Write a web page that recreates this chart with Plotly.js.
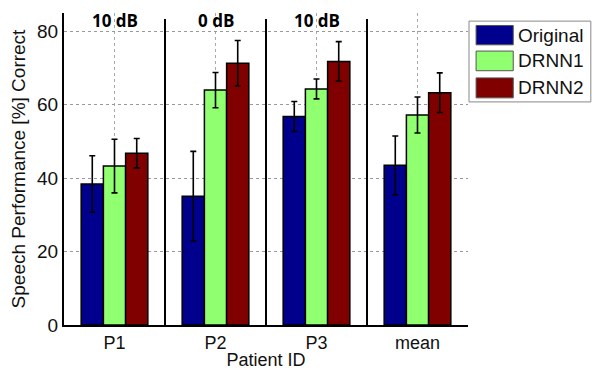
<!DOCTYPE html>
<html><head><meta charset="utf-8">
<script src="https://cdn.plot.ly/plotly-3.0.1.min.js"></script>
<style>body{margin:0;padding:0;background:#fff}#chart{width:592px;height:370px}</style>
</head><body><div id="chart"></div>
<script>
const categories = ['P1', 'P2', 'P3', 'mean'];
const snrLabels = ['10 dB', '0 dB', '10 dB'];
const seriesNames = ['Original', 'DRNN1', 'DRNN2'];
const original = [38.4, 35.1, 56.8, 43.5];
const originalErr = [7.7, 12.2, 4.1, 8.0];
const drnn1 = [43.3, 64.0, 64.3, 57.2];
const drnn1Err = [7.3, 4.8, 2.7, 4.9];
const drnn2 = [46.8, 71.3, 71.8, 63.3];
const drnn2Err = [4.0, 6.2, 5.4, 5.4];
const colors = ['rgb(0,0,140)', 'rgb(144,255,112)', 'rgb(128,0,0)'];

const vals = [original, drnn1, drnn2];
const errs = [originalErr, drnn1Err, drnn2Err];
const font = 'Liberation Sans, Arial, sans-serif';

const traces = vals.map((v, i) => ({
  type: 'bar', x: categories, y: v, name: seriesNames[i],
  marker: {color: colors[i], line: {color: '#000', width: 1.5}},
  error_y: {type: 'data', array: errs[i], visible: true, color: '#000', thickness: 1.6, width: 3},
  showlegend: false
}));

const shapes = [];
for (let k = 0; k < categories.length - 1; k++) {
  shapes.push({type: 'line', xref: 'x', yref: 'paper', x0: k + 0.5, x1: k + 0.5, y0: -0.005, y1: 0.981,
    line: {color: '#000', width: 2}});
}
const annotations = snrLabels.map((t, k) => ({
  text: '<b>' + t + '</b>', x: categories[k], xref: 'x', yref: 'paper', y: 0.976,
  showarrow: false, font: {family: 'Open Sans, sans-serif', size: 17, color: '#000'},
  yanchor: 'middle', bgcolor: 'rgba(255,255,255,0)'
}));
// custom legend
const lx0 = 1.0025, lx1 = 1.304, ly0 = 0.715, ly1 = 0.974;
shapes.push({type: 'rect', xref: 'paper', yref: 'paper', x0: lx0, x1: lx1, y0: ly0, y1: ly1,
  line: {color: '#888', width: 1}, fillcolor: '#fff'});
const rowY = [[0.898, 0.960], [0.815, 0.878], [0.728, 0.792]];
seriesNames.forEach((n, i) => {
  shapes.push({type: 'rect', xref: 'paper', yref: 'paper', x0: 1.020, x1: 1.112,
    y0: rowY[i][0], y1: rowY[i][1], line: {color: '#555', width: 1}, fillcolor: colors[i]});
  annotations.push({text: n, xref: 'paper', yref: 'paper', x: 1.118, y: (rowY[i][0] + rowY[i][1]) / 2,
    xanchor: 'left', yanchor: 'middle', showarrow: false, font: {family: font, size: 19, color: '#111'}});
});

const layout = {
  width: 592, height: 370,
  margin: {l: 64, r: 124, t: 13, b: 45},
  paper_bgcolor: '#fff', plot_bgcolor: '#fff',
  barmode: 'group', bargap: 0.34, bargroupgap: 0,
  font: {family: font, size: 19, color: '#111'},
  xaxis: {
    showline: true, linecolor: '#000', linewidth: 2, mirror: false,
    showgrid: true, gridcolor: '#aaa', griddash: 'dot', gridwidth: 1,
    ticks: '', tickfont: {size: 18},
    title: {text: 'Patient ID', font: {size: 18}, standoff: 6}
  },
  yaxis: {
    range: [0, 85], tickvals: [0, 20, 40, 60, 80],
    showline: true, linecolor: '#000', linewidth: 2,
    showgrid: true, gridcolor: '#999', griddash: 'dot', gridwidth: 1,
    zeroline: false, ticks: '', tickfont: {size: 19},
    title: {text: 'Speech Performance [%] Correct', font: {size: 19}, standoff: 6}
  },
  shapes: shapes, annotations: annotations, showlegend: false
};
Plotly.newPlot('chart', traces, layout, {displayModeBar: false, staticPlot: true});
</script></body></html>
